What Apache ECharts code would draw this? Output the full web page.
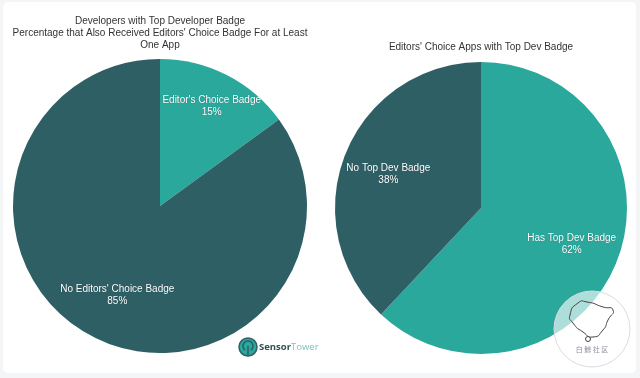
<!DOCTYPE html>
<html>
<head>
<meta charset="utf-8">
<style>
  html, body { margin: 0; padding: 0; background: #f4f5f6; }
  #main { width: 640px; height: 378px; }
</style>
<script src="https://cdn.jsdelivr.net/npm/echarts@6/dist/echarts.min.js"></script>
</head>
<body>
<div id="main"></div>
<script>
// left pie
const leftTitle = "Developers with Top Developer Badge\nPercentage that Also Received Editors' Choice Badge For at Least\nOne App";
const leftNames = ["Editor's Choice Badge", "No Editors' Choice Badge"];
const leftValues = [15, 85];

// right pie
const rightTitle = "Editors' Choice Apps with Top Dev Badge";
const rightNames = ["Has Top Dev Badge", "No Top Dev Badge"];
const rightValues = [62, 38];

const teal = "#2ba89c";
const dark = "#2d5f65";
const font = "'Liberation Sans', Arial, sans-serif";

function toData(names, values, colors, offsets) {
  return names.map((name, i) => ({
    name: name,
    value: values[i],
    itemStyle: { color: colors[i] },
    label: { offset: offsets[i] }
  }));
}

function pieSeries(center, radius, data) {
  return {
    type: "pie",
    center: center,
    radius: radius,
    startAngle: 90,
    clockwise: true,
    silent: true,
    animation: false,
    data: data,
    label: {
      show: true,
      position: "inside",
      formatter: "{b}\n{d}%",
      color: "#fff",
      fontFamily: font,
      fontSize: 10,
      lineHeight: 12,
      align: "center",
      overflow: "none",
      width: 200,
      textBorderWidth: 0,
      textShadowColor: "rgba(0,0,0,0.35)",
      textShadowBlur: 1
    },
    labelLine: { show: false }
  };
}

const chart = echarts.init(document.getElementById("main"), null, { renderer: "canvas" });

chart.setOption({
  backgroundColor: "#f4f5f6",
  title: [
    {
      text: leftTitle, left: 160, top: 15, padding: 0, textAlign: "center",
      textStyle: { fontFamily: font, fontSize: 10, fontWeight: "normal", color: "#333", lineHeight: 12 }
    },
    {
      text: rightTitle, left: 481, top: 41, padding: 0, textAlign: "center",
      textStyle: { fontFamily: font, fontSize: 10, fontWeight: "normal", color: "#333", lineHeight: 12 }
    }
  ],
  series: [
    pieSeries([160, 206], 147, toData(leftNames, leftValues, [teal, dark], [[17, -32], [-8, 21]])),
    pieSeries([481, 208], 146, toData(rightNames, rightValues, [teal, dark], [[20, 8], [-22, -6]]))
  ],
  graphic: [
    // card behind the pies
    { type: "rect", z: -10, shape: { x: 3, y: 2, width: 633, height: 371, r: 5 }, style: { fill: "#fff" } },
    // Sensor Tower logo
    { type: "circle", z: 10, shape: { cx: 248, cy: 347, r: 9 }, style: { fill: teal, stroke: dark, lineWidth: 1.5 } },
    { type: "arc", z: 11, shape: { cx: 248, cy: 346, r: 5, startAngle: Math.PI * 0.7, endAngle: Math.PI * 0.3 }, style: { stroke: dark, fill: null, lineWidth: 1.5 } },
    { type: "line", z: 11, shape: { x1: 248, y1: 346, x2: 248, y2: 356 }, style: { stroke: dark, lineWidth: 1.5 } },
    {
      type: "text", z: 11, x: 259, y: 342,
      style: {
        text: "{a|Sensor}{b|Tower}",
        rich: {
          a: { fontFamily: "'Open Sans', sans-serif", fontSize: 9.5, fontWeight: "bold", fill: "#2f4f52", color: "#2f4f52" },
          b: { fontFamily: "'Open Sans', sans-serif", fontSize: 9.5, fill: "#7cc5bd", color: "#7cc5bd" }
        }
      }
    },
    // watermark badge
    { type: "circle", z: 20, shape: { cx: 592, cy: 329, r: 38 }, style: { fill: "rgba(255,255,255,0.62)", stroke: "#dcdcdf", lineWidth: 1 } },
    {
      type: "polygon", z: 21,
      shape: { points: [[570, 315], [578, 303], [587, 302], [603, 307], [613, 310], [608, 320], [603, 330], [593, 337], [583, 332], [573, 323]], smooth: 0.7 },
      style: { fill: null, stroke: "#4a4446", lineWidth: 1 }
    },
    { type: "circle", z: 21, shape: { cx: 588, cy: 339, r: 2.5 }, style: { fill: "#fff", stroke: "#4a4446", lineWidth: 1 } },
    {
      type: "text", z: 21, x: 592, y: 346,
      style: { text: "白 鲸 社 区", fontFamily: "'Noto Sans CJK SC'", fontSize: 7, fill: "#8d8f9c", align: "center" }
    }
  ]
});
</script>
</body>
</html>
